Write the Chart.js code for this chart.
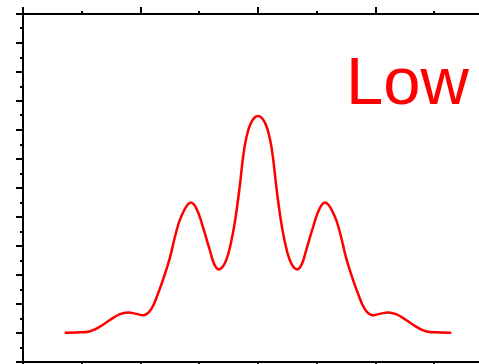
<!DOCTYPE html>
<html>
<head>
<meta charset="utf-8">
<script src="https://cdn.jsdelivr.net/npm/chart.js@4/dist/chart.umd.min.js"></script>
<style>
html, body { margin: 0; padding: 0; background: #fff; overflow: hidden; width: 479px; height: 364px; }
#wrap { position: absolute; left: 0; top: 0; width: 510px; height: 380px; }
</style>
</head>
<body>
<div id="wrap"><canvas id="c" width="510" height="380"></canvas></div>
<script>
// Data
const xValues = [-3.29, -3.10, -2.87, -2.69, -2.52, -2.35, -2.21, -2.07, -1.93, -1.81, -1.70, -1.59, -1.50, -1.39, -1.30, -1.16, -1.05, -0.94, -0.82, -0.74, -0.65, -0.54, -0.45, -0.38, -0.31, -0.26, -0.20, -0.11, 0.00,
                 0.11, 0.20, 0.26, 0.31, 0.38, 0.45, 0.54, 0.65, 0.74, 0.82, 0.94, 1.05, 1.16, 1.30, 1.39, 1.50, 1.59, 1.70, 1.81, 1.93, 2.07, 2.21, 2.35, 2.52, 2.69, 2.87, 3.10, 3.29];
const yValues = [1.01, 1.02, 1.05, 1.22, 1.45, 1.65, 1.71, 1.66, 1.62, 1.85, 2.37, 3.00, 3.59, 4.50, 5.05, 5.49, 5.30, 4.67, 3.86, 3.35, 3.20, 3.52, 4.21, 5.01, 6.07, 6.97, 7.72, 8.28, 8.48,
                 8.28, 7.72, 6.97, 6.07, 5.01, 4.21, 3.52, 3.20, 3.35, 3.86, 4.67, 5.30, 5.49, 5.05, 4.50, 3.59, 3.00, 2.37, 1.85, 1.62, 1.66, 1.71, 1.65, 1.45, 1.22, 1.05, 1.02, 1.01];
const xMajorTicks = [-4, -2, 0, 2, 4];
const xMinorTicks = [-3, -1, 1, 3];
const yMajorTicks = [0, 1, 2, 3, 4, 5, 6, 7, 8, 9, 10, 11, 12];
const yMinorTicks = [0.5, 1.5, 2.5, 3.5, 4.5, 5.5, 6.5, 7.5, 8.5, 9.5, 10.5, 11.5];
const labelText = 'Low';

const points = xValues.map((x, i) => ({ x: x, y: yValues[i] }));

const framePlugin = {
  id: 'frame',
  afterDraw(chart) {
    const ctx = chart.ctx;
    const a = chart.chartArea;
    const xs = chart.scales.x, ys = chart.scales.y;
    ctx.save();
    ctx.strokeStyle = '#000';
    ctx.lineWidth = 2;
    ctx.beginPath();
    ctx.rect(a.left, a.top, a.right - a.left, a.bottom - a.top);
    ctx.stroke();
    ctx.beginPath();
    const tick = (vals, len) => {
      vals.forEach(v => {
        const px = Math.round(xs.getPixelForValue(v));
        ctx.moveTo(px, a.top); ctx.lineTo(px, a.top - len);
        ctx.moveTo(px, a.bottom); ctx.lineTo(px, a.bottom + len);
      });
    };
    const ytick = (vals, len) => {
      vals.forEach(v => {
        const py = Math.round(ys.getPixelForValue(v));
        ctx.moveTo(a.left, py); ctx.lineTo(a.left - len, py);
        ctx.moveTo(a.right, py); ctx.lineTo(a.right + len, py);
      });
    };
    tick(xMajorTicks, 7); tick(xMinorTicks, 3);
    ytick(yMajorTicks, 7); ytick(yMinorTicks, 3);
    ctx.stroke();
    ctx.fillStyle = '#ff0000';
    ctx.font = '67px "Liberation Sans", Arial, sans-serif';
    ctx.textBaseline = 'alphabetic';
    ctx.fillText(labelText, 346, 104);
    ctx.restore();
  }
};

new Chart(document.getElementById('c'), {
  type: 'line',
  data: {
    datasets: [{
      data: points,
      borderColor: '#ff0000',
      borderWidth: 2.5,
      pointRadius: 0,
      fill: false,
      tension: 0.4
    }]
  },
  options: {
    responsive: false,
    animation: false,
    devicePixelRatio: 1,
    layout: { padding: { left: 23, top: 14, right: 17, bottom: 18 } },
    plugins: { legend: { display: false }, tooltip: { enabled: false }, title: { display: false } },
    scales: {
      x: { type: 'linear', min: -4, max: 4, display: false },
      y: { type: 'linear', min: 0, max: 12, display: false }
    }
  },
  plugins: [framePlugin]
});
</script>
</body>
</html>
